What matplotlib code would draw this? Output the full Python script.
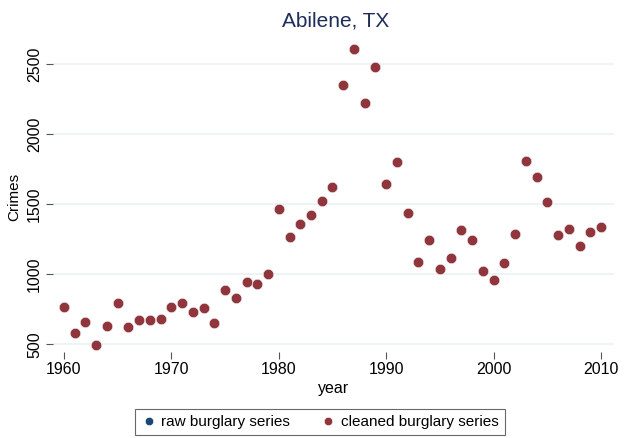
import matplotlib.pyplot as plt

plt.rcParams['font.family'] = ['Liberation Sans', 'DejaVu Sans']

years = list(range(1960, 2011))
cleaned = [765, 583, 659, 498, 630, 797, 626, 678, 671, 680,
           765, 799, 732, 758, 651, 891, 829, 943, 929, 1005,
           1469, 1264, 1359, 1424, 1524, 1621, 2350, 2609, 2221, 2484,
           1645, 1805, 1438, 1086, 1248, 1040, 1117, 1317, 1244, 1021,
           960, 1084, 1287, 1811, 1693, 1519, 1280, 1322, 1203, 1300,
           1338]
raw = list(cleaned)

x_ticks = [1960, 1970, 1980, 1990, 2000, 2010]
y_ticks = [500, 1000, 1500, 2000, 2500]

fig = plt.figure(figsize=(6.25, 4.38), dpi=100)
ax = fig.add_axes([53/625, 1-352/438, 561/625, 310/438])

ax.plot(years, raw, 'o', color='#1a476f', ms=7.5, mec='white', mew=0.4,
        label='raw burglary series', zorder=3)
ax.plot(years, cleaned, 'o', color='#90353b', ms=7.5, mec='white', mew=0.4,
        label='cleaned burglary series', zorder=4)

ax.set_xlim(1958.98, 2011.21)
ax.set_ylim(446, 2660)
ax.set_xticks(x_ticks)
ax.set_yticks(y_ticks)
ax.set_yticklabels([str(v) for v in y_ticks], rotation=90, va='center')
ax.tick_params(axis='y', length=5, color='#555555', labelsize=11.5, pad=3)
ax.tick_params(axis='x', length=5, color='#555555', labelsize=11.5, pad=2,
               direction='out')
for s in ax.spines.values():
    s.set_visible(False)
ax.grid(axis='y', color='#eaf2f3', lw=1.2)
ax.set_axisbelow(True)

ax.set_xlabel('year', fontsize=11.5, labelpad=3)
ax.set_ylabel('Crimes', fontsize=11, labelpad=4)
fig.text(336/625, 1-21/438, 'Abilene, TX', ha='center', va='center',
         fontsize=15, color='#1e2d5a')

leg = fig.legend(loc='center', bbox_to_anchor=(320/625, 1-422/438), ncol=2,
                 fancybox=False, edgecolor='#444444', fontsize=11,
                 markerscale=0.8, handletextpad=0.3, columnspacing=2.0,
                 borderpad=0.4, handlelength=1.0)
leg.get_frame().set_linewidth(0.8)

fig.savefig('out.png', dpi=100)
